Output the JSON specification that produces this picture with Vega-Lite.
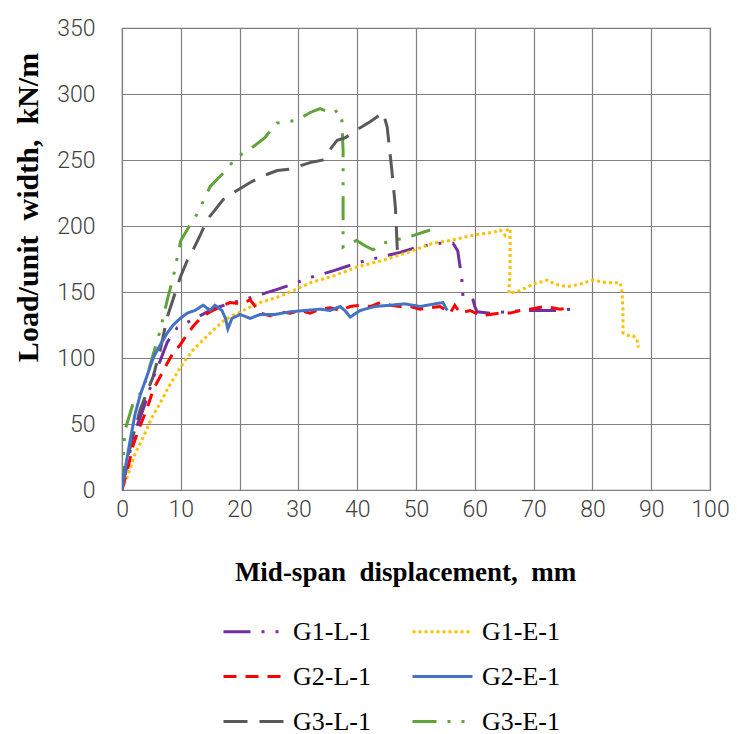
{
  "$schema": "https://vega.github.io/schema/vega-lite/v6.json",
  "width": 588,
  "height": 462,
  "autosize": {"type": "none"},
  "padding": {"left": 122, "top": 28, "right": 27, "bottom": 244},
  "background": "white",
  "config": {
    "view": {"stroke": "#808080", "strokeWidth": 1.2},
    "axis": {
      "grid": true,
      "gridColor": "#808080",
      "gridWidth": 1.2,
      "domain": false,
      "ticks": false,
      "tickSize": 0,
      "labelFont": "Roboto",
      "labelFontWeight": 300,
      "labelFontSize": 23,
      "labelColor": "#404040",
      "labelFlush": false,
      "titleFont": "Liberation Serif",
      "titleFontWeight": "bold",
      "titleColor": "#000000"
    }
  },
  "data": {
    "values": [
      {"s":"G3-E-1","x":0,"y":0},{"s":"G3-E-1","x":0.3,"y":30},{"s":"G3-E-1","x":0.5,"y":45},{"s":"G3-E-1","x":1.9,"y":66},{"s":"G3-E-1","x":3.6,"y":76},{"s":"G3-E-1","x":4.8,"y":95},{"s":"G3-E-1","x":6.5,"y":121},{"s":"G3-E-1","x":7.7,"y":144},{"s":"G3-E-1","x":8.7,"y":161},{"s":"G3-E-1","x":9.3,"y":174},{"s":"G3-E-1","x":10,"y":189},{"s":"G3-E-1","x":11.6,"y":201},{"s":"G3-E-1","x":12.9,"y":210},{"s":"G3-E-1","x":15,"y":230},{"s":"G3-E-1","x":17,"y":239},{"s":"G3-E-1","x":19.5,"y":252},{"s":"G3-E-1","x":22.3,"y":260},{"s":"G3-E-1","x":24.3,"y":267},{"s":"G3-E-1","x":26.3,"y":278},{"s":"G3-E-1","x":29.7,"y":280},{"s":"G3-E-1","x":32,"y":286},{"s":"G3-E-1","x":33.7,"y":289},{"s":"G3-E-1","x":35.9,"y":285},{"s":"G3-E-1","x":36.7,"y":288},{"s":"G3-E-1","x":37.4,"y":280},{"s":"G3-E-1","x":37.6,"y":257},{"s":"G3-E-1","x":37.6,"y":220},{"s":"G3-E-1","x":37.6,"y":184},{"s":"G3-E-1","x":38.3,"y":186},{"s":"G3-E-1","x":39.9,"y":189},{"s":"G3-E-1","x":41.3,"y":185},{"s":"G3-E-1","x":42.7,"y":182},{"s":"G3-E-1","x":44.4,"y":187},{"s":"G3-E-1","x":46.1,"y":189},{"s":"G3-E-1","x":49,"y":192},{"s":"G3-E-1","x":52.4,"y":197},

      {"s":"G3-L-1","x":0,"y":0},{"s":"G3-L-1","x":0.5,"y":17},{"s":"G3-L-1","x":1.7,"y":38},{"s":"G3-L-1","x":3.1,"y":61},{"s":"G3-L-1","x":5.3,"y":86},{"s":"G3-L-1","x":6.5,"y":106},{"s":"G3-L-1","x":7.7,"y":131},{"s":"G3-L-1","x":9.9,"y":161},{"s":"G3-L-1","x":11.1,"y":174},{"s":"G3-L-1","x":12.1,"y":182},{"s":"G3-L-1","x":13.3,"y":193},{"s":"G3-L-1","x":14.5,"y":205},{"s":"G3-L-1","x":15.8,"y":212},{"s":"G3-L-1","x":17.2,"y":220},{"s":"G3-L-1","x":19.2,"y":226},{"s":"G3-L-1","x":21.8,"y":233},{"s":"G3-L-1","x":24,"y":238},{"s":"G3-L-1","x":26.4,"y":242},{"s":"G3-L-1","x":28.6,"y":243},{"s":"G3-L-1","x":29.8,"y":245},{"s":"G3-L-1","x":32,"y":248},{"s":"G3-L-1","x":34.2,"y":250},{"s":"G3-L-1","x":35.4,"y":258},{"s":"G3-L-1","x":36.6,"y":265},{"s":"G3-L-1","x":38,"y":267},{"s":"G3-L-1","x":40,"y":273},{"s":"G3-L-1","x":42.2,"y":279},{"s":"G3-L-1","x":44.4,"y":286},{"s":"G3-L-1","x":45.1,"y":275},{"s":"G3-L-1","x":45.9,"y":242},{"s":"G3-L-1","x":46.5,"y":214},{"s":"G3-L-1","x":46.8,"y":184},{"s":"G3-L-1","x":46.9,"y":176},

      {"s":"G1-L-1","x":0,"y":0},{"s":"G1-L-1","x":1.4,"y":30},{"s":"G1-L-1","x":2.6,"y":49},{"s":"G1-L-1","x":4.3,"y":70},{"s":"G1-L-1","x":5.3,"y":85},{"s":"G1-L-1","x":6.5,"y":98},{"s":"G1-L-1","x":7.7,"y":112},{"s":"G1-L-1","x":9.4,"y":123},{"s":"G1-L-1","x":11.1,"y":127},{"s":"G1-L-1","x":12.8,"y":131},{"s":"G1-L-1","x":15,"y":136},{"s":"G1-L-1","x":16.7,"y":139},{"s":"G1-L-1","x":18.7,"y":142},{"s":"G1-L-1","x":20.6,"y":144},{"s":"G1-L-1","x":23.5,"y":148},{"s":"G1-L-1","x":26.4,"y":152},{"s":"G1-L-1","x":29.1,"y":156},{"s":"G1-L-1","x":32,"y":161},{"s":"G1-L-1","x":35.9,"y":166},{"s":"G1-L-1","x":40,"y":172},{"s":"G1-L-1","x":44.4,"y":177},{"s":"G1-L-1","x":47.3,"y":180},{"s":"G1-L-1","x":50.2,"y":184},{"s":"G1-L-1","x":54.1,"y":187},{"s":"G1-L-1","x":56.3,"y":187},{"s":"G1-L-1","x":57.1,"y":181},{"s":"G1-L-1","x":57.5,"y":169},{"s":"G1-L-1","x":57.8,"y":159},{"s":"G1-L-1","x":58,"y":146},{"s":"G1-L-1","x":59.2,"y":146},{"s":"G1-L-1","x":59.7,"y":144},{"s":"G1-L-1","x":60,"y":139},{"s":"G1-L-1","x":60.4,"y":135},{"s":"G1-L-1","x":62.6,"y":134},{"s":"G1-L-1","x":65.5,"y":135},{"s":"G1-L-1","x":68.5,"y":136},{"s":"G1-L-1","x":71.6,"y":136},{"s":"G1-L-1","x":74.5,"y":136},{"s":"G1-L-1","x":76.2,"y":137},

      {"s":"G1-E-1","x":0,"y":0},{"s":"G1-E-1","x":0.9,"y":10},{"s":"G1-E-1","x":2.2,"y":27},{"s":"G1-E-1","x":3.6,"y":40},{"s":"G1-E-1","x":5.1,"y":55},{"s":"G1-E-1","x":6.5,"y":66},{"s":"G1-E-1","x":7.8,"y":77},{"s":"G1-E-1","x":9.4,"y":89},{"s":"G1-E-1","x":10.7,"y":98},{"s":"G1-E-1","x":12.1,"y":106},{"s":"G1-E-1","x":13.6,"y":113},{"s":"G1-E-1","x":15,"y":119},{"s":"G1-E-1","x":17.5,"y":129},{"s":"G1-E-1","x":20.6,"y":136},{"s":"G1-E-1","x":23.5,"y":142},{"s":"G1-E-1","x":26.4,"y":146},{"s":"G1-E-1","x":29.1,"y":151},{"s":"G1-E-1","x":32,"y":157},{"s":"G1-E-1","x":35.9,"y":162},{"s":"G1-E-1","x":40,"y":169},{"s":"G1-E-1","x":44.4,"y":174},{"s":"G1-E-1","x":48.6,"y":180},{"s":"G1-E-1","x":52.9,"y":187},{"s":"G1-E-1","x":55.8,"y":189},{"s":"G1-E-1","x":58.7,"y":192},{"s":"G1-E-1","x":60.9,"y":194},{"s":"G1-E-1","x":63.1,"y":195},{"s":"G1-E-1","x":64.3,"y":197},{"s":"G1-E-1","x":65.1,"y":193},{"s":"G1-E-1","x":65.5,"y":197},{"s":"G1-E-1","x":66,"y":198},{"s":"G1-E-1","x":66,"y":182},{"s":"G1-E-1","x":66,"y":167},{"s":"G1-E-1","x":65.8,"y":152},{"s":"G1-E-1","x":65.8,"y":149},{"s":"G1-E-1","x":67.7,"y":151},{"s":"G1-E-1","x":69.9,"y":156},{"s":"G1-E-1","x":72.3,"y":159},{"s":"G1-E-1","x":73.6,"y":156},{"s":"G1-E-1","x":75.7,"y":154},{"s":"G1-E-1","x":77.9,"y":156},{"s":"G1-E-1","x":80.1,"y":159},{"s":"G1-E-1","x":82.5,"y":157},{"s":"G1-E-1","x":84.7,"y":157},{"s":"G1-E-1","x":85,"y":152},{"s":"G1-E-1","x":85.2,"y":136},{"s":"G1-E-1","x":85.2,"y":119},{"s":"G1-E-1","x":86.1,"y":117},{"s":"G1-E-1","x":86.9,"y":117},{"s":"G1-E-1","x":87.6,"y":114},{"s":"G1-E-1","x":87.8,"y":108},

      {"s":"G2-L-1","x":0,"y":0},{"s":"G2-L-1","x":0.9,"y":15},{"s":"G2-L-1","x":1.9,"y":34},{"s":"G2-L-1","x":3.1,"y":49},{"s":"G2-L-1","x":4.3,"y":62},{"s":"G2-L-1","x":5.3,"y":76},{"s":"G2-L-1","x":6.5,"y":86},{"s":"G2-L-1","x":7.7,"y":96},{"s":"G2-L-1","x":8.7,"y":104},{"s":"G2-L-1","x":9.9,"y":110},{"s":"G2-L-1","x":11.1,"y":118},{"s":"G2-L-1","x":12.1,"y":124},{"s":"G2-L-1","x":13.3,"y":130},{"s":"G2-L-1","x":15,"y":135},{"s":"G2-L-1","x":16.7,"y":139},{"s":"G2-L-1","x":18.4,"y":142},{"s":"G2-L-1","x":20.1,"y":141},{"s":"G2-L-1","x":21.8,"y":144},{"s":"G2-L-1","x":23.5,"y":134},{"s":"G2-L-1","x":25.2,"y":132},{"s":"G2-L-1","x":26.9,"y":135},{"s":"G2-L-1","x":28.6,"y":134},{"s":"G2-L-1","x":30.3,"y":136},{"s":"G2-L-1","x":32,"y":134},{"s":"G2-L-1","x":33.7,"y":137},{"s":"G2-L-1","x":35.4,"y":138},{"s":"G2-L-1","x":37.1,"y":136},{"s":"G2-L-1","x":38.8,"y":139},{"s":"G2-L-1","x":40.5,"y":140},{"s":"G2-L-1","x":42.2,"y":139},{"s":"G2-L-1","x":43.9,"y":142},{"s":"G2-L-1","x":45.6,"y":140},{"s":"G2-L-1","x":47.3,"y":139},{"s":"G2-L-1","x":49,"y":139},{"s":"G2-L-1","x":50.7,"y":137},{"s":"G2-L-1","x":54.1,"y":139},{"s":"G2-L-1","x":55.8,"y":134},{"s":"G2-L-1","x":56.6,"y":140},{"s":"G2-L-1","x":57.5,"y":134},{"s":"G2-L-1","x":59.2,"y":136},{"s":"G2-L-1","x":61.1,"y":132},{"s":"G2-L-1","x":62.6,"y":133},{"s":"G2-L-1","x":64.3,"y":134},{"s":"G2-L-1","x":66,"y":134},{"s":"G2-L-1","x":67.7,"y":136},{"s":"G2-L-1","x":69.4,"y":137},{"s":"G2-L-1","x":71.9,"y":139},{"s":"G2-L-1","x":74.5,"y":137},{"s":"G2-L-1","x":76.2,"y":138},

      {"s":"G2-E-1","x":0,"y":0},{"s":"G2-E-1","x":0.5,"y":15},{"s":"G2-E-1","x":1.4,"y":38},{"s":"G2-E-1","x":2.2,"y":57},{"s":"G2-E-1","x":3.1,"y":72},{"s":"G2-E-1","x":4.3,"y":87},{"s":"G2-E-1","x":5.3,"y":100},{"s":"G2-E-1","x":6.5,"y":110},{"s":"G2-E-1","x":7.7,"y":119},{"s":"G2-E-1","x":8.7,"y":125},{"s":"G2-E-1","x":9.9,"y":130},{"s":"G2-E-1","x":11.1,"y":134},{"s":"G2-E-1","x":12.4,"y":136},{"s":"G2-E-1","x":13.8,"y":140},{"s":"G2-E-1","x":15,"y":136},{"s":"G2-E-1","x":15.8,"y":140},{"s":"G2-E-1","x":17,"y":136},{"s":"G2-E-1","x":17.6,"y":130},{"s":"G2-E-1","x":18,"y":122},{"s":"G2-E-1","x":18.7,"y":130},{"s":"G2-E-1","x":20.1,"y":133},{"s":"G2-E-1","x":21.8,"y":130},{"s":"G2-E-1","x":23.5,"y":133},{"s":"G2-E-1","x":26,"y":133},{"s":"G2-E-1","x":28.6,"y":135},{"s":"G2-E-1","x":31.1,"y":136},{"s":"G2-E-1","x":33.7,"y":137},{"s":"G2-E-1","x":35.4,"y":136},{"s":"G2-E-1","x":37.1,"y":139},{"s":"G2-E-1","x":37.9,"y":136},{"s":"G2-E-1","x":38.8,"y":131},{"s":"G2-E-1","x":40.5,"y":136},{"s":"G2-E-1","x":43,"y":139},{"s":"G2-E-1","x":45.6,"y":140},{"s":"G2-E-1","x":48.1,"y":141},{"s":"G2-E-1","x":50.7,"y":139},{"s":"G2-E-1","x":53.2,"y":141},{"s":"G2-E-1","x":54.6,"y":142},{"s":"G2-E-1","x":55.3,"y":136}
    ]
  },
  "mark": {"type": "line", "strokeWidth": 3, "clip": true},
  "encoding": {
    "x": {
      "field": "x", "type": "quantitative",
      "scale": {"domain": [0, 100], "nice": false, "zero": false},
      "axis": {"values": [0,10,20,30,40,50,60,70,80,90,100], "labelPadding": 8, "title": "Mid-span\u00a0 displacement,\u00a0 mm", "titleFontSize": 27, "titleX": 283, "titleY": 82, "titleBaseline": "middle", "titleAlign": "center"}
    },
    "y": {
      "field": "y", "type": "quantitative",
      "scale": {"domain": [0, 350], "nice": false},
      "axis": {"values": [0,50,100,150,200,250,300,350], "labelPadding": 27, "title": "Load/unit\u00a0 width,\u00a0 kN/m", "titleFontSize": 30, "titleX": -94, "titleY": 179, "titleAngle": 270, "titleBaseline": "middle", "titleAlign": "center"}
    },
    "color": {
      "field": "s", "type": "nominal",
      "scale": {"domain": ["G1-L-1","G1-E-1","G2-L-1","G2-E-1","G3-L-1","G3-E-1"], "range": ["#7030A0","#FFC000","#FF0000","#4472C4","#595959","#5FA33A"]},
      "legend": {"title": null, "orient": "none", "legendX": 100, "legendY": 572, "columns": 2, "direction": "horizontal", "symbolType": "stroke", "symbolSize": 3600, "symbolStrokeWidth": 3, "labelFont": "Liberation Serif", "labelFontSize": 26, "labelColor": "#000000", "labelOffset": 8, "columnPadding": 35, "rowPadding": -8, "labelLimit": 200}
    },
    "strokeDash": {
      "field": "s", "type": "nominal",
      "scale": {"domain": ["G1-L-1","G1-E-1","G2-L-1","G2-E-1","G3-L-1","G3-E-1"], "range": [[27,11,3,11,3,11],[3,3],[13,9],[1,0],[24,12],[24,11,3,11,3,11]]},
      "legend": {"title": null, "orient": "none", "legendX": 100, "legendY": 572, "columns": 2, "direction": "horizontal", "symbolType": "stroke", "symbolSize": 3600, "symbolStrokeWidth": 3, "labelFont": "Liberation Serif", "labelFontSize": 26, "labelColor": "#000000", "labelOffset": 8, "columnPadding": 35, "rowPadding": -8, "labelLimit": 200}
    },
    "order": {"value": null}
  }
}
